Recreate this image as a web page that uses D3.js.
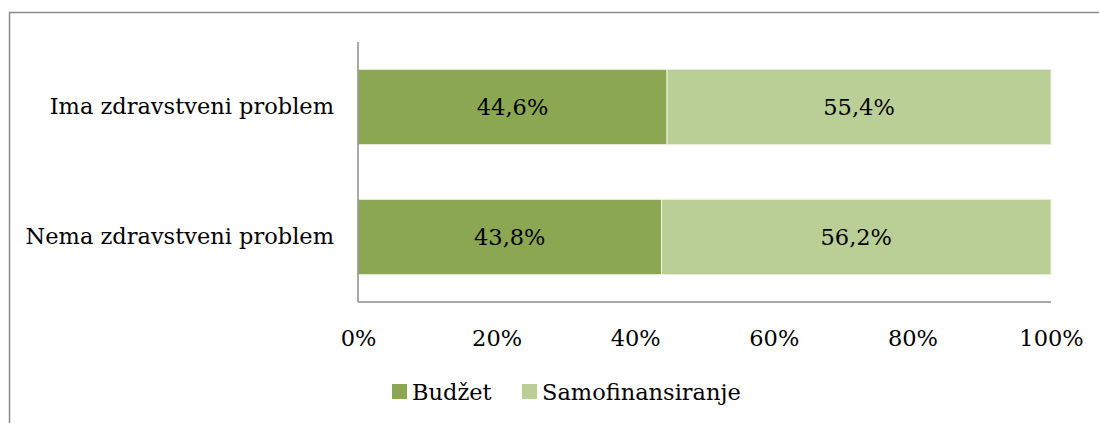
<!DOCTYPE html>
<html><head><meta charset="utf-8">
<script src="https://cdn.jsdelivr.net/npm/d3@7"></script>
<style>html,body{margin:0;padding:0;background:#fff;}svg{display:block;}</style>
</head><body>
<svg id="c" width="1099" height="423"></svg>
<script>
const categories = ["Ima zdravstveni problem", "Nema zdravstveni problem"];
const seriesNames = ["Budžet", "Samofinansiranje"];
const budzet = [44.6, 43.8];
const samofinansiranje = [55.4, 56.2];
const tickValues = [0, 20, 40, 60, 80, 100];
const colors = ["#8BA752", "#BACF96"];

const FONT = "'DejaVu Serif', serif";
const FS = 22.5;
const svg = d3.select("#c");
// chart border
svg.append("path").attr("d","M9.5,423 V12.5 H1099").attr("fill","none").attr("stroke","#8c8c8c").attr("stroke-width",1.5);

const x = d3.scaleLinear().domain([0,100]).range([358,1051]);
const y = d3.scaleBand().domain(categories).range([42,302]).paddingInner(0.42).paddingOuter(0.21);

const stacked = categories.map((c,i)=>{
  return [{c, s:0, x0:0, x1:budzet[i], v:budzet[i]}, {c, s:1, x0:budzet[i], x1:budzet[i]+samofinansiranje[i], v:samofinansiranje[i]}];
}).flat();

svg.selectAll("rect.bar").data(stacked).join("rect").attr("class","bar")
  .attr("x",d=>x(d.x0)).attr("width",d=>x(d.x1)-x(d.x0))
  .attr("y",d=>y(d.c)).attr("height",y.bandwidth())
  .attr("fill",d=>colors[d.s]).attr("stroke","#eef3e6").attr("stroke-width",1);

svg.selectAll("text.val").data(stacked).join("text").attr("class","val")
  .attr("x",d=>(x(d.x0)+x(d.x1))/2).attr("y",d=>y(d.c)+y.bandwidth()/2)
  .attr("dy","0.36em").attr("text-anchor","middle")
  .attr("font-family",FONT).attr("font-size",FS).attr("fill","#000")
  .text(d=>d.v.toFixed(1).replace(".",",")+"%");

// axes
const gy = svg.append("g").attr("transform","translate(358,0)")
  .call(d3.axisLeft(y).tickSize(0).tickPadding(24));
gy.select(".domain").attr("stroke","#8c8c8c").attr("stroke-width",1.5).attr("d","M0,42V302");
gy.selectAll("text").attr("font-family",FONT).attr("font-size",FS).attr("fill","#000");

const gx = svg.append("g").attr("transform","translate(0,302)")
  .call(d3.axisBottom(x).tickValues(tickValues).tickSize(0).tickPadding(28).tickFormat(d=>d+"%"));
gx.select(".domain").attr("stroke","#8c8c8c").attr("stroke-width",1.5).attr("d","M358,0H1051");
gx.selectAll("text").attr("font-family",FONT).attr("font-size",FS).attr("fill","#000");

// legend
const lg = svg.append("g");
const legX = [392, 522];
seriesNames.forEach((n,i)=>{
  lg.append("rect").attr("x",legX[i]).attr("y",384).attr("width",15).attr("height",15).attr("fill",colors[i]);
  lg.append("text").attr("x",legX[i]+20).attr("y",392).attr("dy","0.35em")
    .attr("font-family",FONT).attr("font-size",FS).attr("fill","#000").text(n);
});
</script>
</body></html>
